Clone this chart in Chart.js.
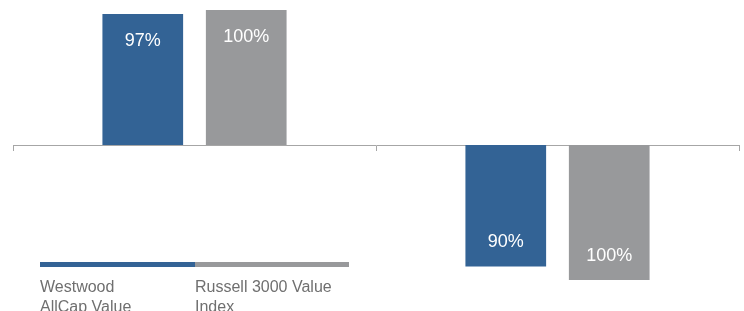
<!DOCTYPE html>
<html>
<head>
<meta charset="utf-8">
<script src="https://cdn.jsdelivr.net/npm/chart.js@4"></script>
<style>
  html, body { margin: 0; padding: 0; background: #fff; }
  #wrap { position: relative; width: 744px; height: 311px; overflow: hidden; }
  .legend-bar { position: absolute; top: 262px; height: 5px; }
  .legend-text {
    position: absolute; top: 277px;
    font-family: "Liberation Sans", Arial, sans-serif; font-size: 16px; line-height: 20px;
    color: #6f6f6f; white-space: nowrap;
  }
</style>
</head>
<body>
<div id="wrap">
  <canvas id="chart"></canvas>
  <div id="legend"></div>
</div>
<script>
const categories = ['Upside Capture', 'Downside Capture'];
const westwood = [97, -90];
const russell = [100, -100];
const seriesNames = [['Westwood', 'AllCap Value'], ['Russell 3000 Value', 'Index']];
const seriesColors = ['#336395', '#98999b'];

// white % labels inside each bar, near its far end
const valueLabels = {
  id: 'valueLabels',
  afterDatasetsDraw(chart) {
    const ctx = chart.ctx;
    ctx.save();
    ctx.fillStyle = '#ffffff';
    ctx.font = '18px "Liberation Sans", Arial, sans-serif';
    ctx.textAlign = 'center';
    ctx.textBaseline = 'middle';
    chart.data.datasets.forEach((ds, i) => {
      chart.getDatasetMeta(i).data.forEach((bar, j) => {
        const v = ds.data[j];
        const y = v >= 0 ? bar.y + 27 : bar.y - 24;
        ctx.fillText(Math.abs(v) + '%', bar.x, y);
      });
    });
    ctx.restore();
  }
};

new Chart(document.getElementById('chart'), {
  type: 'bar',
  data: {
    labels: categories,
    datasets: [
      { label: seriesNames[0].join(' '), data: westwood, backgroundColor: seriesColors[0] },
      { label: seriesNames[1].join(' '), data: russell, backgroundColor: seriesColors[1] }
    ]
  },
  options: {
    responsive: true,
    maintainAspectRatio: false,
    animation: false,
    categoryPercentage: 0.57,
    barPercentage: 0.78,
    layout: { padding: { top: 10, bottom: 31, left: 13, right: 5 } },
    plugins: {
      legend: { display: false },
      tooltip: { enabled: false }
    },
    scales: {
      y: { display: false, min: -100, max: 100 },
      x: {
        position: { y: 0 },
        ticks: { display: false },
        grid: { offset: true, drawOnChartArea: false, tickLength: 5, color: '#a6a6a6', lineWidth: 1 },
        border: { color: '#a6a6a6', width: 1 }
      }
    }
  },
  plugins: [valueLabels]
});

// legend drawn as html: colour strip with the name underneath
const legend = document.getElementById('legend');
const legendX = [40, 195];
const legendW = [155, 154];
seriesNames.forEach((lines, i) => {
  const bar = document.createElement('div');
  bar.className = 'legend-bar';
  bar.style.left = legendX[i] + 'px';
  bar.style.width = legendW[i] + 'px';
  bar.style.background = seriesColors[i];
  legend.appendChild(bar);
  const txt = document.createElement('div');
  txt.className = 'legend-text';
  txt.style.left = legendX[i] + 'px';
  txt.innerHTML = lines.join('<br>');
  legend.appendChild(txt);
});
</script>
</body>
</html>
